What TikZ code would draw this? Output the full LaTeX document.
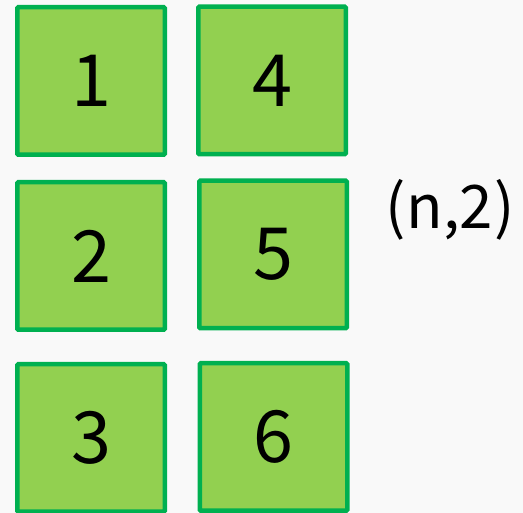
\documentclass[tikz,border=0pt]{standalone}
\usepackage{fontspec}
\setmainfont{Noto Sans CJK JP}
\definecolor{boxfill}{HTML}{92D050}
\definecolor{boxline}{HTML}{00B050}
\definecolor{bg}{HTML}{F9F9F9}
\begin{document}
\begin{tikzpicture}[x=1pt,y=-1pt,
  cell/.style={draw=boxline,fill=boxfill,line width=4.5pt,rounded corners=1pt,minimum width=147.5pt,minimum height=147.5pt,inner sep=0pt,font=\fontsize{72}{80}\selectfont},
  lbl/.style={font=\fontsize{60}{68}\selectfont,inner sep=0pt}]
\fill[bg] (0,0) rectangle (523,513);
\useasboundingbox (0,0) rectangle (523,513);
\node[cell] (c1) at (91,81) {1};
\node[cell] (c4) at (272,80.5) {4};
\node[cell] (c2) at (91,256) {2};
\node[cell] (c5) at (273,254.5) {5};
\node[cell] (c3) at (91,438) {3};
\node[cell] (c6) at (273.5,437) {6};
\node[lbl] (t) at (450,210) {(\kern1pt n,2\kern1pt)};
\end{tikzpicture}
\end{document}
